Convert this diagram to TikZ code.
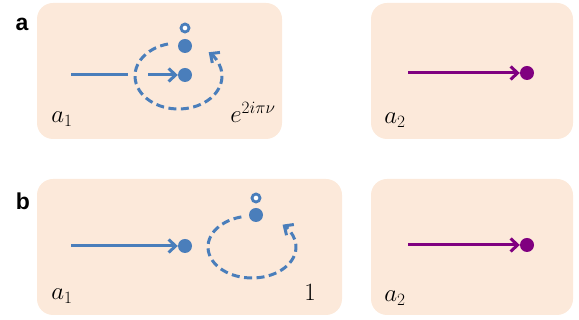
\documentclass[tikz,border=0pt]{standalone}
\usepackage{fontspec}
\setsansfont{Liberation Sans}
\usetikzlibrary{arrows.meta}
\definecolor{peach}{HTML}{FCE9DA}
\definecolor{cblue}{HTML}{4A7EBB}
\definecolor{cpurple}{HTML}{800080}
\begin{document}
\begin{tikzpicture}[x=1pt,y=1pt,
  panel/.style={fill=peach,draw=none,rounded corners=16pt,inner sep=0pt},
  bdot/.style={circle,fill=cblue,inner sep=0pt,minimum size=14pt},
  pdot/.style={circle,fill=cpurple,inner sep=0pt,minimum size=14pt},
  odot/.style={circle,draw=cblue,line width=2.8pt,fill=white,inner sep=0pt,minimum size=8pt},
  bline/.style={draw=cblue,line width=3pt},
  pline/.style={draw=cpurple,line width=3pt},
  tip/.style={-{Straight Barb[length=7pt,width=13pt,line width=3pt]}},
  dashedarc/.style={draw=cblue,line width=3pt,dash pattern=on 8pt off 4.5pt},
  lab/.style={font=\fontsize{26}{28}\selectfont,inner sep=0pt},
  plab/.style={font=\sffamily\bfseries\fontsize{23}{25}\selectfont,inner sep=0pt}]
\useasboundingbox (0,0) rectangle (579,320);
% panel letters
\node[plab] (la) at (22,296) {a};
\node[plab] (lb) at (23,119) {b};
% panel boxes
\node[panel,minimum width=245pt,minimum height=136pt] (pa1) at (159.5,249) {};
\node[panel,minimum width=202pt,minimum height=136pt] (pa2) at (472,249) {};
\node[panel,minimum width=305pt,minimum height=136pt] (pb1) at (189.5,73) {};
\node[panel,minimum width=202pt,minimum height=136pt] (pb2) at (472,73) {};
% ---- panel a1
\coordinate (a1s) at (71,245);
\coordinate (a1e) at (128,245);
\draw[bline] (a1s) -- (a1e);
\node[bdot] (a1d) at (185,245) {};
\node[bdot] (a1t) at (185,274) {};
\node[odot] (a1o) at (185,292) {};
\coordinate (a1as) at (148,245);
\draw[bline,tip] (a1as) -- (a1d.west);
\coordinate (a1c) at (178.5,244);
\draw[dashedarc,tip] ([shift={(104:43.5pt and 33pt)}]a1c) arc[start angle=104,end angle=406,x radius=43.5pt,y radius=33pt];
\node[lab] (a1l) at (62,201) {$a_1$};
\node[lab] (a1f) at (253,208) {$e^{2i\pi\nu}$};
% ---- panel a2
\coordinate (a2s) at (408,247);
\node[pdot] (a2d) at (527,247) {};
\draw[pline,tip] (a2s) -- (a2d.west);
\node[lab] (a2l) at (395,200) {$a_2$};
% ---- panel b1
\coordinate (b1s) at (71,74);
\node[bdot] (b1d) at (185,74) {};
\draw[bline,tip] (b1s) -- (b1d.west);
\node[bdot] (b1t) at (256,105) {};
\node[odot] (b1o) at (256,122) {};
\coordinate (b1c) at (252,73);
\draw[dashedarc,tip] ([shift={(104:44pt and 31pt)}]b1c) arc[start angle=104,end angle=406,x radius=44pt,y radius=31pt];
\node[lab] (b1l) at (62,24) {$a_1$};
\node[lab] (b1f) at (310,28) {$1$};
% ---- panel b2
\coordinate (b2s) at (408,75);
\node[pdot] (b2d) at (527,75) {};
\draw[pline,tip] (b2s) -- (b2d.west);
\node[lab] (b2l) at (395,22) {$a_2$};
\end{tikzpicture}
\end{document}
